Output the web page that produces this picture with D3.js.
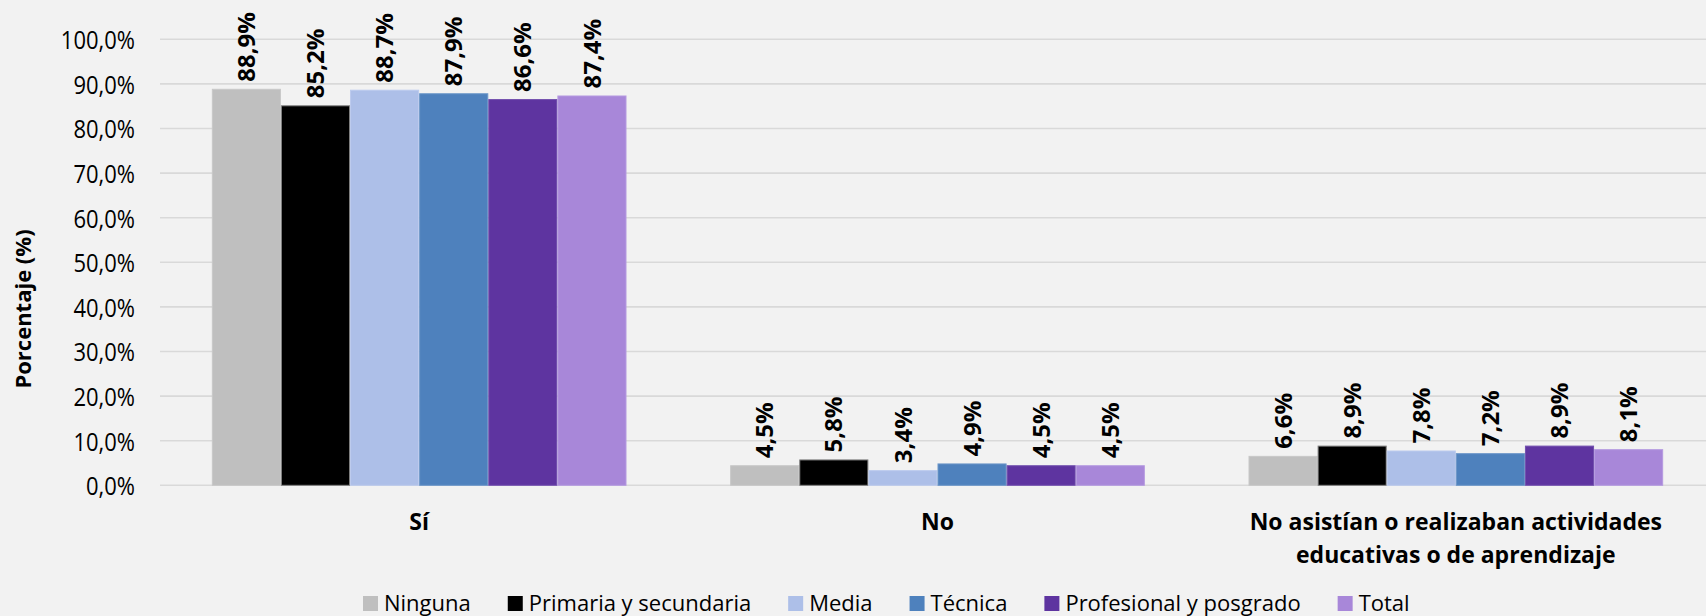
<!DOCTYPE html>
<html>
<head>
<meta charset="utf-8">
<script src="https://cdn.jsdelivr.net/npm/d3@7"></script>
<style>
  html, body { margin: 0; padding: 0; background: #F2F2F2; }
  svg { display: block; }
  text { font-family: "Open Sans", "Noto Sans", sans-serif; fill: #000; }
</style>
</head>
<body>
<svg id="chart" width="1706" height="616"></svg>
<script>
const categories = [
  ["Sí"],
  ["No"],
  ["No asistían o realizaban actividades", "educativas o de aprendizaje"]
];
const categoryKeys = ["Sí", "No", "No asistían"];
const seriesNames = ["Ninguna", "Primaria y secundaria", "Media", "Técnica", "Profesional y posgrado", "Total"];
const seriesColors = ["#BFBFBF", "#000000", "#ADBFE8", "#4E81BD", "#5E34A0", "#A887D9"];
const seriesStrokes = ["#C8C8C8", "#7F7F7F", "#BCCBEE", "#6A95C8", "#7250AE", "#B59AE0"];
const ninguna   = [88.9, 4.5, 6.6];
const primaria  = [85.2, 5.8, 8.9];
const media     = [88.7, 3.4, 7.8];
const tecnica   = [87.9, 4.9, 7.2];
const profesional = [86.6, 4.5, 8.9];
const total     = [87.4, 4.5, 8.1];
const seriesValues = [ninguna, primaria, media, tecnica, profesional, total];
const yTicks = [0, 10, 20, 30, 40, 50, 60, 70, 80, 90, 100];

const svg = d3.select("#chart");
const fmt = v => d3.format(".1f")(v).replace(".", ",") + "%";

const y = d3.scaleLinear().domain([0, 100]).range([485.3, 39.3]);
const x0 = d3.scaleBand().domain(categoryKeys).range([160, 1715]).paddingInner(0.2).paddingOuter(0.1);
const x1 = d3.scaleBand().domain(seriesNames).range([0, x0.bandwidth()]).padding(0);

// gridlines
svg.append("g").selectAll("line").data(yTicks).join("line")
  .attr("x1", 160).attr("x2", 1715)
  .attr("y1", d => y(d)).attr("y2", d => y(d))
  .attr("stroke", "#D9D9D9").attr("stroke-width", 1.6);

// y axis labels via d3 axis
const yAxis = d3.axisLeft(y).tickValues(yTicks).tickSize(0).tickPadding(0)
  .tickFormat(d => d3.format(".1f")(d).replace(".", ",") + "%");
const gy = svg.append("g").attr("transform", "translate(135,0)").call(yAxis);
gy.select(".domain").remove();
gy.selectAll(".tick text")
  .attr("x", null).attr("y", null).attr("dy", null)
  .attr("transform", "scale(1,1.12)")
  .attr("dominant-baseline", "central")
  .attr("font-size", 22).attr("font-family", '"Open Sans", sans-serif')
  .attr("fill", "#000");

// bars
const flat = [];
categoryKeys.forEach((c, ci) => {
  seriesNames.forEach((s, si) => {
    flat.push({ c, s, si, v: seriesValues[si][ci] });
  });
});

svg.append("g").selectAll("rect").data(flat).join("rect")
  .attr("x", d => x0(d.c) + x1(d.s) + 0.5)
  .attr("width", x1.bandwidth() - 1)
  .attr("y", d => y(d.v) + 0.5)
  .attr("height", d => y(0) - y(d.v) - 0.5)
  .attr("fill", d => seriesColors[d.si])
  .attr("stroke", d => seriesStrokes[d.si])
  .attr("stroke-width", 1);

// value labels
svg.append("g").selectAll("text").data(flat).join("text")
  .attr("transform", d => `translate(${x0(d.c) + x1(d.s) + x1.bandwidth() / 2},${y(d.v) - 7}) rotate(-90)`)
  .attr("text-anchor", "start")
  .attr("dy", "0.36em")
  .attr("font-size", 24)
  .attr("font-weight", "bold")
  .text(d => fmt(d.v));

// category labels
const cg = svg.append("g");
categoryKeys.forEach((c, ci) => {
  const t = cg.append("text")
    .attr("x", x0(c) + x0.bandwidth() / 2)
    .attr("y", 530)
    .attr("text-anchor", "middle")
    .attr("font-size", 23)
    .attr("font-weight", "bold");
  categories[ci].forEach((line, li) => {
    t.append("tspan").attr("x", x0(c) + x0.bandwidth() / 2).attr("y", 530 + li * 33).text(line);
  });
});

// y axis title
svg.append("text")
  .attr("transform", "translate(23,309) rotate(-90)")
  .attr("text-anchor", "middle")
  .attr("dy", "0.35em")
  .attr("font-size", 22)
  .attr("font-weight", "bold")
  .text("Porcentaje (%)");

// legend
const lg = svg.append("g");
let lx = 363;
seriesNames.forEach((s, si) => {
  lg.append("rect").attr("x", lx).attr("y", 596).attr("width", 15).attr("height", 15)
    .attr("fill", seriesColors[si]);
  const t = lg.append("text").attr("x", lx + 21).attr("y", 611)
    .attr("font-size", 22).text(s);
  const w = t.node().getComputedTextLength();
  lx = lx + 21 + w + 37;
});
</script>
</body>
</html>
